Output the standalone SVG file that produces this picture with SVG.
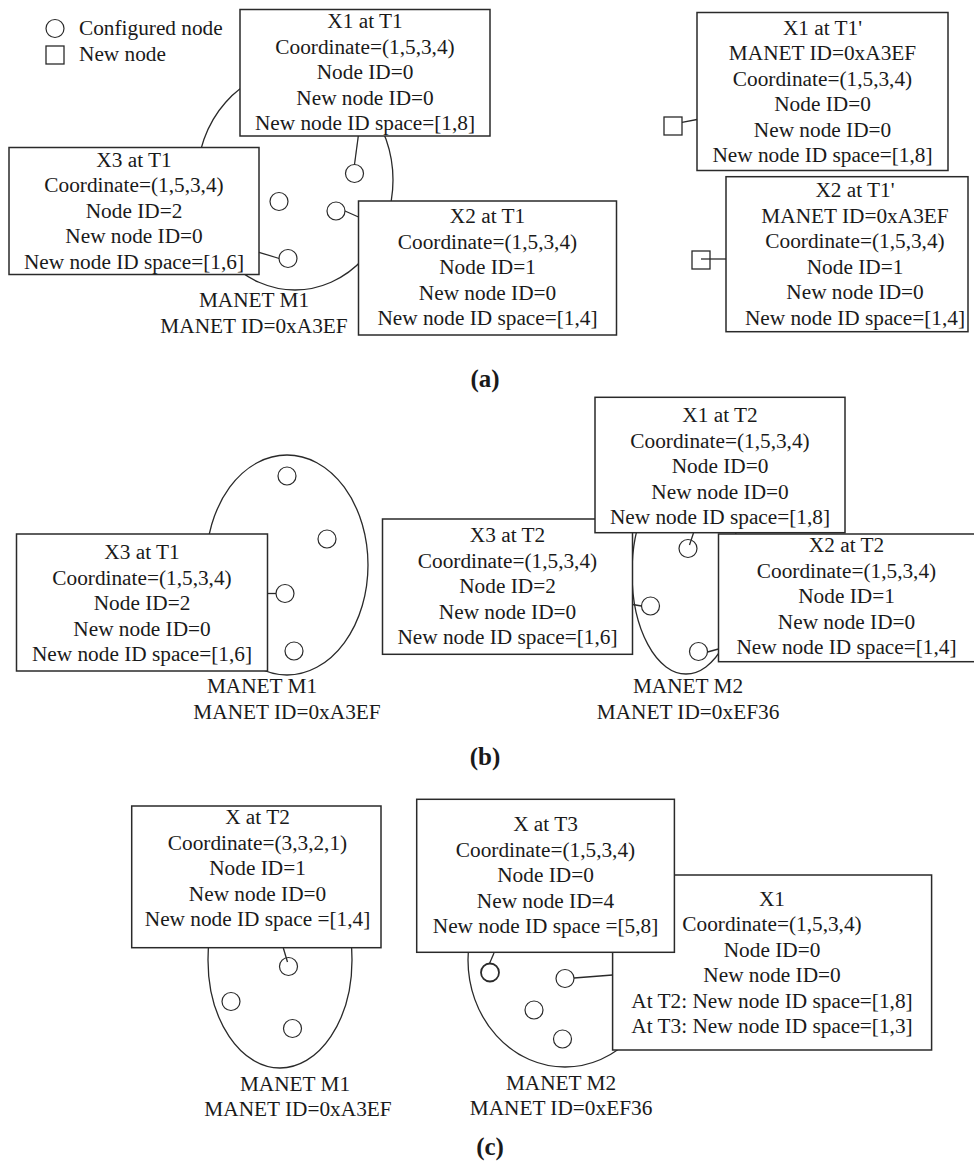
<svg xmlns="http://www.w3.org/2000/svg" width="974" height="1163" viewBox="0 0 974 1163">
<style>
.bg{fill:#fff}
.box{fill:#fff;stroke:#2a2a2a;stroke-width:1.5}
.net{fill:none;stroke:#2a2a2a;stroke-width:1.3}
.nd{fill:#fff;stroke:#2a2a2a;stroke-width:1.2}
.nb{fill:#fff;stroke:#2a2a2a;stroke-width:1.8}
.sq{fill:#fff;stroke:#2a2a2a;stroke-width:1.3}
.conn line{stroke:#2a2a2a;stroke-width:1.3}
.t{font-family:"Liberation Serif","Times New Roman",serif;font-size:21.3px;fill:#1a1a1a;text-anchor:middle}
.ts{font-family:"Liberation Serif","Times New Roman",serif;font-size:21.3px;fill:#1a1a1a}
.lb{font-family:"Liberation Serif","Times New Roman",serif;font-size:25px;font-weight:bold;fill:#1a1a1a;text-anchor:middle}
</style>
<rect class="bg" x="0" y="0" width="974" height="1163"/>

<!-- ===== Panel (a) ===== -->
<g id="legend">
<circle class="nd" cx="55" cy="28.5" r="9"/>
<text class="ts" x="79" y="35">Configured node</text>
<rect class="sq" x="46" y="46" width="18" height="18"/>
<text class="ts" x="79" y="61">New node</text>
</g>

<g id="a-manet-m1">
<ellipse class="net" cx="295" cy="180" rx="98" ry="110"/>
<text class="t" x="254" y="307">MANET M1</text>
<text class="t" x="254" y="333">MANET ID=0xA3EF</text>
</g>
<g id="a-n1"><circle class="nd" cx="354.5" cy="173.5" r="9"/></g>
<g id="a-n2"><circle class="nd" cx="279" cy="201.5" r="9"/></g>
<g id="a-n3"><circle class="nd" cx="336" cy="211" r="9"/></g>
<g id="a-n4"><circle class="nd" cx="288" cy="258.5" r="9"/></g>

<g id="a-x1">
<rect class="box" x="240" y="9.5" width="250" height="126.5"/>
<text class="t" x="365" y="28.3">X1 at T1</text>
<text class="t" x="365" y="53.8">Coordinate=(1,5,3,4)</text>
<text class="t" x="365" y="79.3">Node ID=0</text>
<text class="t" x="365" y="104.8">New node ID=0</text>
<text class="t" x="365" y="130.3">New node ID space=[1,8]</text>
</g>
<g id="a-x3">
<rect class="box" x="9" y="147.5" width="250" height="127"/>
<text class="t" x="134" y="166.7">X3 at T1</text>
<text class="t" x="134" y="192.2">Coordinate=(1,5,3,4)</text>
<text class="t" x="134" y="217.7">Node ID=2</text>
<text class="t" x="134" y="243.2">New node ID=0</text>
<text class="t" x="134" y="268.7">New node ID space=[1,6]</text>
</g>
<g id="a-x2">
<rect class="box" x="358.5" y="201" width="258" height="134"/>
<text class="t" x="487.5" y="223">X2 at T1</text>
<text class="t" x="487.5" y="248.5">Coordinate=(1,5,3,4)</text>
<text class="t" x="487.5" y="274">Node ID=1</text>
<text class="t" x="487.5" y="299.5">New node ID=0</text>
<text class="t" x="487.5" y="325">New node ID space=[1,4]</text>
</g>

<g id="a-sq1"><rect class="sq" x="664" y="117" width="18" height="18"/></g>
<g id="a-x1p">
<rect class="box" x="697" y="12.5" width="251" height="158"/>
<text class="t" x="822.5" y="34.5">X1 at T1'</text>
<text class="t" x="822.5" y="60">MANET ID=0xA3EF</text>
<text class="t" x="822.5" y="85.5">Coordinate=(1,5,3,4)</text>
<text class="t" x="822.5" y="111">Node ID=0</text>
<text class="t" x="822.5" y="136.5">New node ID=0</text>
<text class="t" x="822.5" y="162">New node ID space=[1,8]</text>
</g>
<g id="a-sq2"><rect class="sq" x="692" y="251" width="18" height="18"/></g>
<g id="a-x2p">
<rect class="box" x="726" y="176.7" width="242" height="155"/>
<text class="t" x="855" y="197">X2 at T1'</text>
<text class="t" x="855" y="222.5">MANET ID=0xA3EF</text>
<text class="t" x="855" y="248">Coordinate=(1,5,3,4)</text>
<text class="t" x="855" y="273.5">Node ID=1</text>
<text class="t" x="855" y="299">New node ID=0</text>
<text class="t" x="855" y="324.5">New node ID space=[1,4]</text>
</g>
<text class="lb" x="485" y="387">(a)</text>

<!-- ===== Panel (b) ===== -->
<g id="b-manet-m1">
<ellipse class="net" cx="287" cy="565" rx="81" ry="110"/>
<text class="t" x="262" y="693">MANET M1</text>
<text class="t" x="287" y="719">MANET ID=0xA3EF</text>
</g>
<g id="b-n1"><circle class="nd" cx="287" cy="476" r="9"/></g>
<g id="b-n2"><circle class="nd" cx="327" cy="539" r="9"/></g>
<g id="b-n3"><circle class="nd" cx="285" cy="593.5" r="9"/></g>
<g id="b-n4"><circle class="nd" cx="294" cy="651" r="9"/></g>
<g id="b-x3-t1">
<rect class="box" x="16.5" y="534" width="251" height="137"/>
<text class="t" x="142" y="559">X3 at T1</text>
<text class="t" x="142" y="584.5">Coordinate=(1,5,3,4)</text>
<text class="t" x="142" y="610">Node ID=2</text>
<text class="t" x="142" y="635.5">New node ID=0</text>
<text class="t" x="142" y="661">New node ID space=[1,6]</text>
</g>

<g id="b-manet-m2">
<ellipse class="net" cx="686" cy="573" rx="54" ry="101"/>
<text class="t" x="688" y="693">MANET M2</text>
<text class="t" x="688" y="718.5">MANET ID=0xEF36</text>
</g>
<g id="b-m2-n1"><circle class="nd" cx="688" cy="548.5" r="9"/></g>
<g id="b-m2-n2"><circle class="nd" cx="650.5" cy="606" r="9"/></g>
<g id="b-m2-n3"><circle class="nd" cx="698.5" cy="651.5" r="9"/></g>
<g id="b-x3-t2">
<rect class="box" x="382.5" y="519" width="250" height="135.3"/>
<text class="t" x="507.5" y="542">X3 at T2</text>
<text class="t" x="507.5" y="567.5">Coordinate=(1,5,3,4)</text>
<text class="t" x="507.5" y="593">Node ID=2</text>
<text class="t" x="507.5" y="618.5">New node ID=0</text>
<text class="t" x="507.5" y="644">New node ID space=[1,6]</text>
</g>
<g id="b-x1-t2">
<rect class="box" x="595" y="397.3" width="250" height="135.4"/>
<text class="t" x="720" y="422">X1 at T2</text>
<text class="t" x="720" y="447.5">Coordinate=(1,5,3,4)</text>
<text class="t" x="720" y="473">Node ID=0</text>
<text class="t" x="720" y="498.5">New node ID=0</text>
<text class="t" x="720" y="524">New node ID space=[1,8]</text>
</g>
<g id="b-x2-t2">
<rect class="box" x="718.5" y="534" width="260" height="127.7"/>
<text class="t" x="846.5" y="552">X2 at T2</text>
<text class="t" x="846.5" y="577.5">Coordinate=(1,5,3,4)</text>
<text class="t" x="846.5" y="603">Node ID=1</text>
<text class="t" x="846.5" y="628.5">New node ID=0</text>
<text class="t" x="846.5" y="654">New node ID space=[1,4]</text>
</g>
<text class="lb" x="485" y="765">(b)</text>

<!-- ===== Panel (c) ===== -->
<g id="c-manet-m1">
<ellipse class="net" cx="280" cy="960" rx="72" ry="108"/>
<text class="t" x="295" y="1091">MANET M1</text>
<text class="t" x="298" y="1116">MANET ID=0xA3EF</text>
</g>
<g id="c-m1-n1"><circle class="nd" cx="288.5" cy="966.5" r="9"/></g>
<g id="c-m1-n2"><circle class="nd" cx="231" cy="1001.5" r="9"/></g>
<g id="c-m1-n3"><circle class="nd" cx="292.5" cy="1028.5" r="9"/></g>
<g id="c-x-t2">
<rect class="box" x="131.7" y="806" width="249.3" height="141.7"/>
<text class="t" x="257.5" y="824">X at T2</text>
<text class="t" x="257.5" y="849.5">Coordinate=(3,3,2,1)</text>
<text class="t" x="257.5" y="875">Node ID=1</text>
<text class="t" x="257.5" y="900.5">New node ID=0</text>
<text class="t" x="257.5" y="926">New node ID space =[1,4]</text>
</g>

<g id="c-manet-m2">
<ellipse class="net" cx="565" cy="960" rx="97" ry="107"/>
<text class="t" x="561" y="1090">MANET M2</text>
<text class="t" x="561" y="1114.5">MANET ID=0xEF36</text>
</g>
<g id="c-m2-n1"><circle class="nb" cx="490" cy="972.5" r="9"/></g>
<g id="c-m2-n2"><circle class="nd" cx="565" cy="978.5" r="9"/></g>
<g id="c-m2-n3"><circle class="nd" cx="534" cy="1010" r="9"/></g>
<g id="c-m2-n4"><circle class="nd" cx="562.5" cy="1039" r="9"/></g>
<g id="c-x1">
<rect class="box" x="612.6" y="875" width="319" height="175"/>
<text class="t" x="772" y="905.5">X1</text>
<text class="t" x="772" y="931">Coordinate=(1,5,3,4)</text>
<text class="t" x="772" y="956.5">Node ID=0</text>
<text class="t" x="772" y="982">New node ID=0</text>
<text class="t" x="772" y="1007.5">At T2: New node ID space=[1,8]</text>
<text class="t" x="772" y="1033">At T3: New node ID space=[1,3]</text>
</g>
<g id="c-x-t3">
<rect class="box" x="416.7" y="799.3" width="257.7" height="153"/>
<text class="t" x="545.5" y="831">X at T3</text>
<text class="t" x="545.5" y="856.5">Coordinate=(1,5,3,4)</text>
<text class="t" x="545.5" y="882">Node ID=0</text>
<text class="t" x="545.5" y="907.5">New node ID=4</text>
<text class="t" x="545.5" y="933">New node ID space =[5,8]</text>
</g>
<text class="lb" x="490" y="1155">(c)</text>

<g id="connectors" class="conn">
<line x1="358.3" y1="136" x2="354.5" y2="164.5"/>
<line x1="345" y1="211" x2="358.5" y2="217"/>
<line x1="259" y1="252.3" x2="279.2" y2="258.5"/>
<line x1="682" y1="122.3" x2="697" y2="119.5"/>
<line x1="701" y1="259" x2="726" y2="259"/>
<line x1="267.7" y1="593.5" x2="276" y2="593.5"/>
<line x1="693.5" y1="533" x2="689.5" y2="545"/>
<line x1="632.5" y1="604.5" x2="641.5" y2="606"/>
<line x1="707.5" y1="652" x2="718.5" y2="649"/>
<line x1="283.3" y1="948" x2="287.5" y2="962"/>
<line x1="494" y1="953" x2="489.5" y2="963.5"/>
<line x1="574" y1="978" x2="612.6" y2="975"/>
</g>
</svg>
